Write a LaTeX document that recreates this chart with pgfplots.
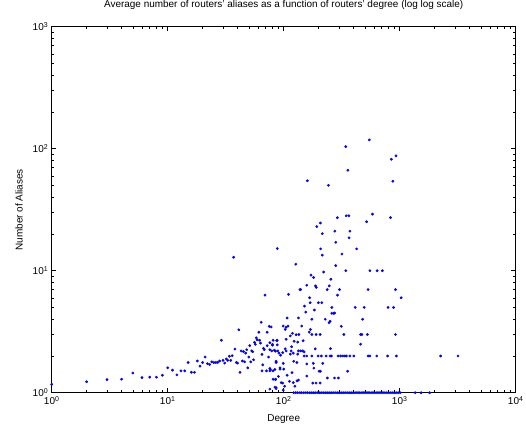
\documentclass[border=0pt]{standalone}
\usepackage{fontspec}
\setmainfont{Liberation Sans}
\usepackage{pgfplots}
\pgfplotsset{compat=1.18}
\definecolor{mblue}{rgb}{0,0,1}
\pgfplotstableread{
x y
1 1.17
2 1.23
3 1.28
4 1.29
5 1.45
6 1.33
7 1.34
8 1.34
9 1.39
10 1.60
11 1.53
12 1.40
13 1.51
14 1.51
15 1.77
16 1.47
17 1.47
18 1.82
19 1.65
20 1.77
21 1.96
22 1.73
23 1.70
24 1.79
25 1.77
26 1.77
27 1.77
28 1.82
29 2.69
30 1.84
31 1.75
32 1.89
33 1.84
34 1.99
35 1.84
36 2.01
37 12.9
38 2.28
39 1.77
40 1.75
41 3.28
42 1.47
43 2.20
44 1.82
45 2.17
46 1.79
47 2.11
48 2.25
49 1.60
50 1.96
51 2.43
52 1.79
53 2.20
54 2.17
55 1.86
56 2.59
57 2.49
58 2.82
59 2.72
61 3.13
62 2.69
63 2.55
64 3.78
65 2.06
66 1.69
67 2.31
68 2.25
65 1.51
69 6.3
71 1.51
72 2.43
72 3.13
74 1.96
75 3.50
76 1.51
76 2.25
77 1.54
78 3.46
79 2.20
80 2.49
81 2.69
81 1.51
83 2.23
85 1.28
86 1.10
86 1.77
88 2.69
88 15.2
89 2.20
90 1.36
91 2.11
93 1.60
151 5.13
169 5.47
199 5.47
213 5.47
260 5.0
260 4.47
270 4.47
184 4.76
155 4.58
228 4.0
246 3.75
107 4.1
134 4.1
143 3.52
175 4.0
99 3.52
105 3.44
109 3.52
103 3.30
170 3.30
166 3.14
119 3.07
128 2.99
135 3.0
175 3.0
190 3.0
206 3.0
114 2.92
147 2.67
105 2.74
123 2.64
132 2.60
87 2.67
88 2.47
76 2.57
80 2.45
103 2.29
117 2.38
187 2.29
253 2.30
85 2.19
98 2.13
105 2.20
114 2.07
121 2.11
134 2.20
140 2.20
146 2.20
150 2.16
116 2.20
132 2.07
150 2.0
158 2.0
175 2.0
198 2.0
211 2.0
232 2.0
251 2.0
258 2.0
295 2.0
310 2.0
323 2.0
337 2.0
347 2.0
372 2.0
403 2.0
534 2.0
554 2.0
634 2.0
787 2.0
935 2.0
2250 2.0
3180 2.0
94 2.03
122 1.81
86 1.81
99 1.74
130 1.77
158 1.72
180 1.74
217 1.74
182 1.59
76 1.58
84 1.55
93 1.56
100 1.56
202 1.50
207 1.50
118 1.46
85 1.29
81 1.29
107 1.39
158 1.37
112 1.24
121 1.21
125 1.13
98 1.20
178 1.20
190 1.20
206 1.20
238 1.32
274 1.32
296 1.32
76 1.07
84 1.11
102 1.13
95 1.21
99 1.05
134 1.27
130 1.25
86 1.08
413 5.0
494 5.0
794 5.0
886 5.0
275 4.5
251 3.85
478 4.0
314 3.5
330 3.0
460 3.0
472 3.0
526 3.0
920 3.0
460 2.5
356 1.5
281 11.0
343 10.0
554 10.0
638 10.0
709 10.0
255 8.5
303 7.0
534 7.0
920 7.0
291 6.3
1030 6.0
547 118
343 104
928 87.3
848 81.9
358 66.6
160 54.6
243 50.1
873 54.1
583 29.1
346 28.2
364 28.2
290 27.2
833 27.2
518 25.2
207 24.6
193 23.0
276 21.1
372 21.1
215 20.1
366 18.6
281 17.1
208 15.1
425 15.1
215 13.4
318 13.7
127 11.3
221 9.75
181 8.8
172 9.2
158 7.6
188 7.5
191 7.3
247 7.5
138 7.0
140 7.0
237 7.0
110 6.4
167 6.0
122 1
127 1
132 1
138 1
143 1
149 1
155 1
161 1
168 1
175 1
182 1
189 1
197 1
205 1
213 1
222 1
231 1
240 1
250 1
260 1
271 1
282 1
293 1
305 1
317 1
330 1
344 1
358 1
372 1
387 1
403 1
420 1
437 1
454 1
473 1
492 1
512 1
533 1
554 1
577 1
600 1
625 1
650 1
676 1
704 1
732 1
762 1
793 1
825 1
859 1
894 1
930 1
968 1
1010 1
1360 1
1530 1
1810 1
}\datatable
\begin{document}
\begin{tikzpicture}[x=1bp,y=1bp]
\useasboundingbox (0,0) rectangle (526,428);
\begin{axis}[
  at={(51.7bp,35.3bp)}, anchor=south west,
  scale only axis, width=464bp, height=366bp,
  xmode=log, ymode=log,
  xmin=1, xmax=10000, ymin=1, ymax=1000,
  xtick={1,10,100,1000,10000},
  ytick={1,10,100,1000},
  minor xtick={2,3,4,5,6,7,8,9,20,30,40,50,60,70,80,90,200,300,400,500,600,700,800,900,2000,3000,4000,5000,6000,7000,8000,9000},
  minor ytick={2,3,4,5,6,7,8,9,20,30,40,50,60,70,80,90,200,300,400,500,600,700,800,900},
  xticklabel={10\textsuperscript{\pgfmathparse{int(round(\tick/ln(10)))}\pgfmathresult}},
  yticklabel={10\textsuperscript{\pgfmathparse{int(round(\tick/ln(10)))}\pgfmathresult}},
  tick align=inside,
  major tick length=4.5bp, minor tick length=2.5bp,
  tick style={black, line width=0.5pt},
  axis line style={black, line width=0.6pt},
  font=\fontsize{10}{11}\selectfont,
  tick label style={font=\fontsize{10}{11}\selectfont},
  title={Average number of routers' aliases as a function of routers' degree (log log scale)},
  title style={at={(axis description cs:0.5,1.0369)}, anchor=base},
  xlabel={Degree},
  xlabel style={at={(axis description cs:0.5,-0.0792)}, anchor=base},
  ylabel={Number of Aliases},
  ylabel style={at={(axis description cs:-0.0629,0.5)}, anchor=base},
]
\addplot[only marks, mark=*, mark size=1.2pt, color=mblue, mark options={draw=none, fill=mblue}] table[x=x,y=y] {\datatable};
\end{axis}
\end{tikzpicture}
\end{document}
